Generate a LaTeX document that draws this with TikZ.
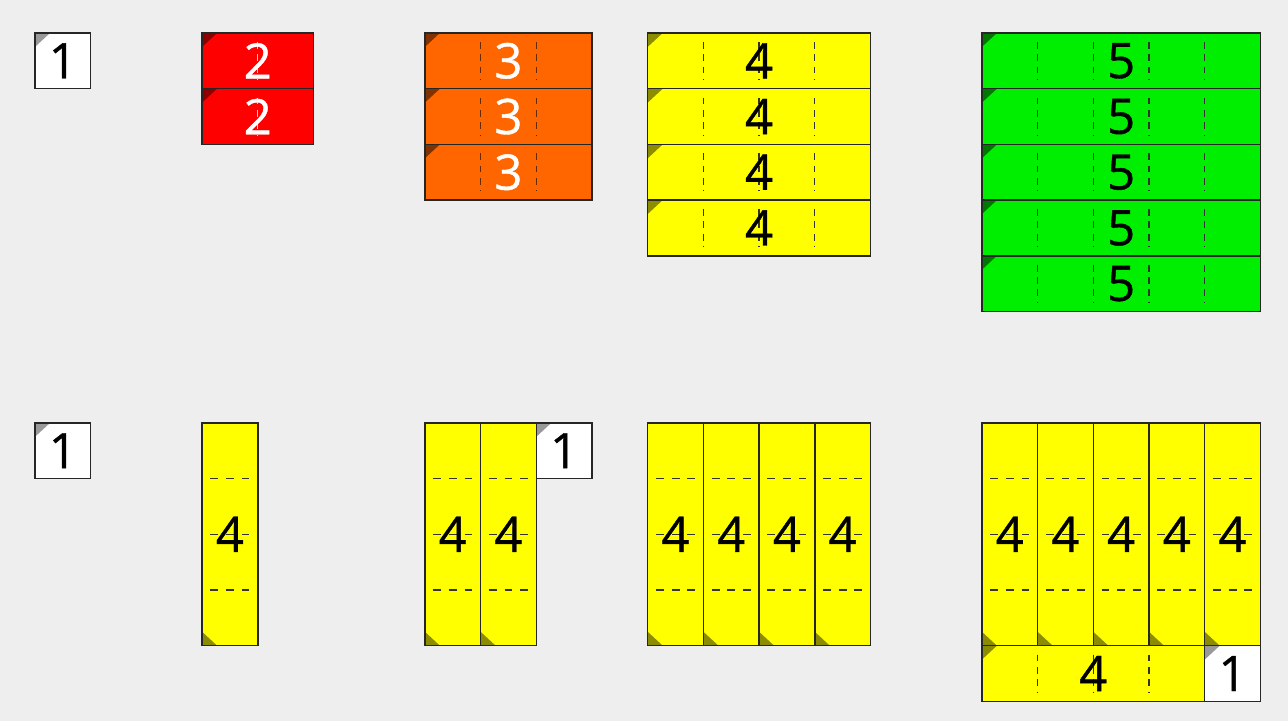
\documentclass[tikz,border=0pt]{standalone}
\usepackage{fontspec}
\setmainfont{Open Sans}
\newfontfamily\digitface{Open Sans}[FakeBold=0.8]
\usetikzlibrary{positioning}
\usetikzlibrary{calc}

\definecolor{paper}{HTML}{EEEEEE}
\definecolor{rodred}{HTML}{FF0000}
\definecolor{rodorange}{HTML}{FF6600}
\definecolor{rodyellow}{HTML}{FFFF00}
\definecolor{rodgreen}{HTML}{00EE00}
\colorlet{earcol}{black}
\colorlet{dashcol}{black}
\newcommand{\digits}{\digitface\fontsize{25}{25}\selectfont}

\tikzset{
    rod/.style={draw=black!85, line width=0.8pt, inner sep=0pt, outer sep=0pt,
        minimum width=1cm, minimum height=1cm, font=\digits},
    paint/.style n args={4}{fill=#1, text=#2,
        /utils/exec={\colorlet{earcol}{#3}\colorlet{dashcol}{#4}}},
    onec/.style={paint={white}{black}{black!40}{black}},
    twoc/.style={paint={rodred}{white}{rodred!55!black}{white!75!rodred}},
    threec/.style={paint={rodorange}{white}{rodorange!50!black}{rodorange!40!black}},
    fourc/.style={paint={rodyellow}{black}{rodyellow!55!black}{black!80}},
    fivec/.style={paint={rodgreen}{black}{rodgreen!50!black}{black!80}},
    vcut/.style={line width=0.65pt, dash pattern=on 3.5pt off 2.8pt},
    hcut/.style={line width=0.65pt, dash pattern=on 4pt off 4pt},
    hrod/.style={rod, minimum width=#1 cm, path picture={
        \fill[earcol] (path picture bounding box.north west) -- ++(0.27,0) -- ++(-0.27,-0.25) -- cycle;
        \foreach \k in {1,...,#1} {\ifnum\k<#1\relax
            \draw[dashcol, vcut] ($(path picture bounding box.north west)+(\k,-0.16)$) -- ++(0,-0.68);\fi}
    }},
    vrod/.style={rod, minimum height=#1 cm, path picture={
        \fill[earcol] (path picture bounding box.south west) -- ++(0.27,0) -- ++(-0.27,0.25) -- cycle;
        \foreach \k in {1,...,#1} {\ifnum\k<#1\relax
            \draw[dashcol, hcut] ($(path picture bounding box.north west)+(0.15,-\k)$) -- ++(0.7,0);\fi}
    }},
}

\begin{document}
\begin{tikzpicture}
    \fill[paper] (-0.628,0.592) rectangle (22.496,-12.352);

    % top row: squares of 1 to 5
    \node[hrod=1, onec, anchor=north west] (one) at (0,0) {1};

    \node[hrod=2, twoc, anchor=north west] (two1) at (3,0) {2};
    \node[hrod=2, twoc, below=0pt of two1] (two2) {2};

    \node[hrod=3, threec, anchor=north west] (three1) at (7,0) {3};
    \foreach \i [evaluate=\i as \j using int(\i-1)] in {2,3}
        \node[hrod=3, threec, below=0pt of three\j] (three\i) {3};

    \node[hrod=4, fourc, anchor=north west] (four1) at (11,0) {4};
    \foreach \i [evaluate=\i as \j using int(\i-1)] in {2,...,4}
        \node[hrod=4, fourc, below=0pt of four\j] (four\i) {4};

    \node[hrod=5, fivec, anchor=north west] (five1) at (17,0) {5};
    \foreach \i [evaluate=\i as \j using int(\i-1)] in {2,...,5}
        \node[hrod=5, fivec, below=0pt of five\j] (five\i) {5};

    % bottom row: multiples of 4 plus 1
    \node[hrod=1, onec, anchor=north west] (oneb) at (0,-7) {1};

    \node[vrod=4, fourc, anchor=north west] (colA1) at (3,-7) {4};

    \node[vrod=4, fourc, anchor=north west] (colB1) at (7,-7) {4};
    \node[vrod=4, fourc, right=0pt of colB1] (colB2) {4};
    \node[hrod=1, onec, anchor=north west] (oneB) at (colB2.north east) {1};

    \node[vrod=4, fourc, anchor=north west] (colC1) at (11,-7) {4};
    \foreach \i [evaluate=\i as \j using int(\i-1)] in {2,...,4}
        \node[vrod=4, fourc, right=0pt of colC\j] (colC\i) {4};

    \node[vrod=4, fourc, anchor=north west] (colD1) at (17,-7) {4};
    \foreach \i [evaluate=\i as \j using int(\i-1)] in {2,...,5}
        \node[vrod=4, fourc, right=0pt of colD\j] (colD\i) {4};
    \node[hrod=4, fourc, anchor=north west] (rowD) at (colD1.south west) {4};
    \node[hrod=1, onec, right=0pt of rowD] (oneD) {1};
\end{tikzpicture}
\end{document}
